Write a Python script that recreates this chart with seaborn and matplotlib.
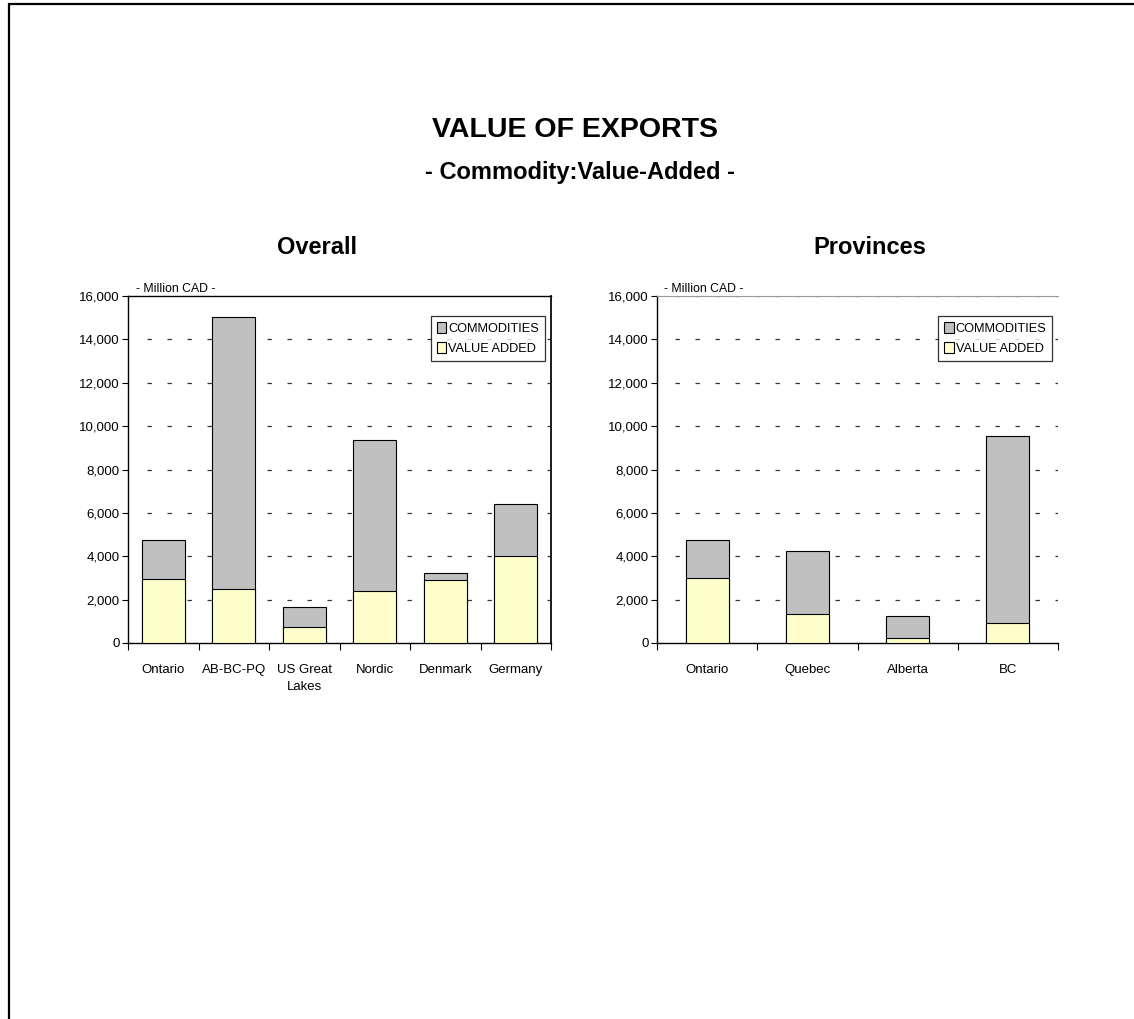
import matplotlib
matplotlib.use("Agg")
import matplotlib.pyplot as plt
import seaborn as sns
import pandas as pd
import numpy as np
from matplotlib.ticker import FuncFormatter, FixedLocator
from matplotlib.patches import Rectangle, Patch

# ---- data ----
overall_regions = ["Ontario", "AB-BC-PQ", "US Great\nLakes", "Nordic", "Denmark", "Germany"]
overall_value_added = [2970, 2510, 740, 2420, 2920, 3990]
overall_total = [4750, 15030, 1650, 9360, 3230, 6410]

province_regions = ["Ontario", "Quebec", "Alberta", "BC"]
province_value_added = [2990, 1340, 220, 940]
province_total = [4740, 4250, 1230, 9540]

series_names = ["COMMODITIES", "VALUE ADDED"]
yticks = [0, 2000, 4000, 6000, 8000, 10000, 12000, 14000, 16000]

GRAY = "#C0C0C0"
YELLOW = "#FFFFCC"

sns.set_theme(style="white")
plt.rcParams["font.family"] = ["Liberation Sans", "DejaVu Sans"]
plt.rcParams["text.color"] = "black"
plt.rcParams["xtick.color"] = "black"
plt.rcParams["ytick.color"] = "black"
plt.rcParams["xtick.labelcolor"] = "black"
plt.rcParams["ytick.labelcolor"] = "black"

fig = plt.figure(figsize=(11.34, 10.19), dpi=100)

# page frame (left and top edges visible)
fig.add_artist(Rectangle((9 / 1134, -0.02), 1.02, 1.02 + (1 - 4 / 1019) - 1.0,
                         transform=fig.transFigure, fill=False,
                         edgecolor="black", linewidth=1.6))

fig.text(0.507, 0.8724, "VALUE OF EXPORTS", ha="center", va="center",
         fontsize=20.5, fontweight="bold")
fig.text(0.5115, 0.8312, "- Commodity:Value-Added -", ha="center", va="center",
         fontsize=17, fontweight="bold")


def draw(ax, regions, va, total, width, title, title_x, full_frame):
    df = pd.DataFrame({"region": regions, "total": total, "va": va})
    sns.barplot(data=df, x="region", y="total", color=GRAY, width=width,
                edgecolor="black", linewidth=0.8, saturation=1, ax=ax, zorder=3)
    sns.barplot(data=df, x="region", y="va", color=YELLOW, width=width,
                edgecolor="black", linewidth=0.8, saturation=1, ax=ax, zorder=4)
    n = len(regions)
    ax.set_xlim(-0.5, n - 0.5)
    ax.set_ylim(0, 16000)
    ax.set_xlabel("")
    ax.set_ylabel("")
    ax.yaxis.set_major_locator(FixedLocator(yticks))
    ax.yaxis.set_major_formatter(FuncFormatter(lambda v, p: f"{int(v):,}"))
    ax.tick_params(axis="y", which="major", left=True, length=4, width=0.8,
                   direction="out", labelsize=9.5, pad=2, color="black")
    ax.tick_params(axis="x", which="major", length=0, labelsize=9.5, pad=15)
    ax.set_xticks(np.arange(-0.5, n, 1.0), minor=True)
    ax.tick_params(axis="x", which="minor", bottom=True, length=5, width=0.8,
                   direction="out", color="black")
    for lbl in ax.get_xticklabels():
        lbl.set_linespacing(1.6)
    # dashed gridlines
    for v in yticks[1:]:
        if v == 16000 and full_frame:
            continue
        ax.axhline(v, xmin=0.045, xmax=1.0, color="#333333", linewidth=0.9,
                   linestyle=(0, (3.5, 12.5)), zorder=1)
    for s in ["left", "bottom"]:
        ax.spines[s].set_visible(True)
        ax.spines[s].set_color("black")
        ax.spines[s].set_linewidth(1.0)
    ax.spines["right"].set_visible(full_frame)
    ax.spines["right"].set_color("black")
    ax.spines["top"].set_visible(True)
    ax.spines["top"].set_color("black" if full_frame else "#9a9a9a")
    ax.spines["top"].set_linewidth(1.0 if full_frame else 0.8)
    fig.text(title_x, 0.7576, title, ha="center", va="center",
             fontsize=17, fontweight="bold")
    ax.text(0.018, 1.002, "- Million CAD -", transform=ax.transAxes,
            fontsize=8.8, ha="left", va="bottom")
    handles = [Patch(facecolor=GRAY, edgecolor="black", linewidth=0.8),
               Patch(facecolor=YELLOW, edgecolor="black", linewidth=0.8)]
    leg = ax.legend(handles, series_names, loc="upper right",
                    bbox_to_anchor=(0.985, 0.942), fontsize=9.2, frameon=True,
                    fancybox=False, handlelength=0.75, handleheight=1.0,
                    handletextpad=0.15, borderpad=0.45, labelspacing=0.55,
                    borderaxespad=0)
    leg.get_frame().set_edgecolor("black")
    leg.get_frame().set_linewidth(0.9)
    leg.set_zorder(6)


ax1 = fig.add_axes([0.1129, 0.369, 0.373, 0.3405])
draw(ax1, overall_regions, overall_value_added, overall_total, 0.61,
     "Overall", 0.2795, True)

ax2 = fig.add_axes([0.5794, 0.369, 0.3536, 0.3405])
draw(ax2, province_regions, province_value_added, province_total, 0.43,
     "Provinces", 0.767, False)

fig.savefig("out.png", dpi=100)
